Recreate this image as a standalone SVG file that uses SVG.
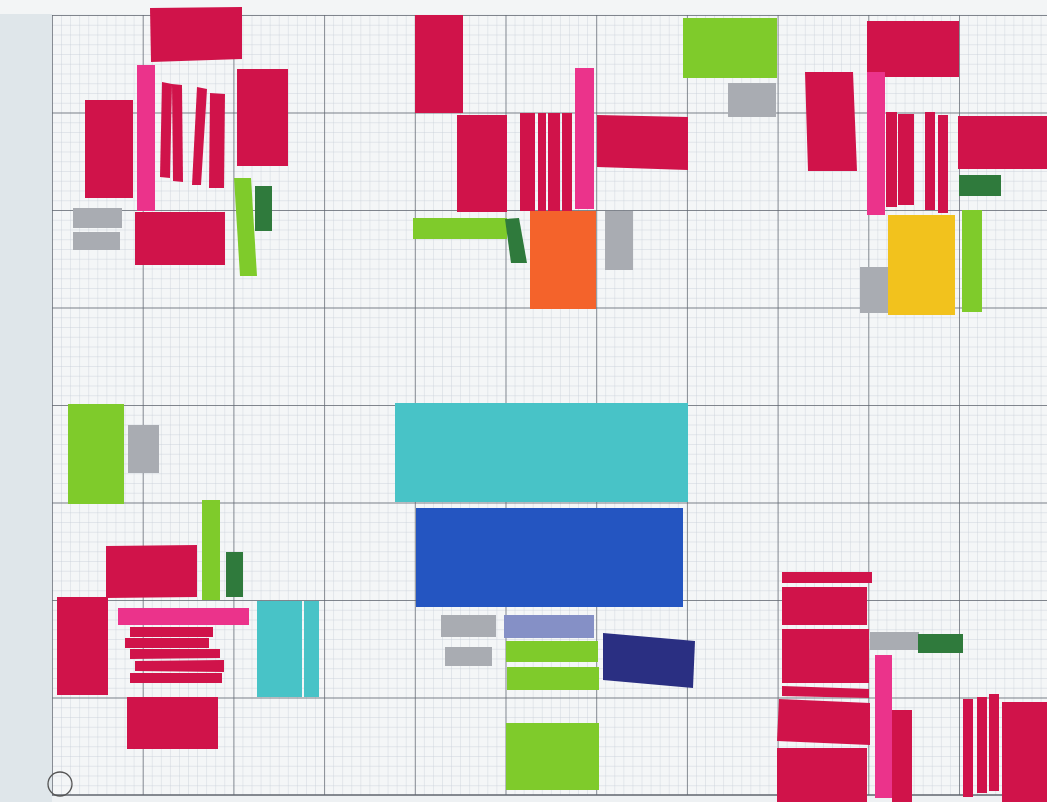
<svg xmlns="http://www.w3.org/2000/svg" width="1047" height="802" viewBox="0 0 1047 802">
<defs>
<pattern id="minor" patternUnits="userSpaceOnUse" x="52" y="15" width="9.07" height="9.75">
<path d="M0 0H9.07M0 0V9.75" fill="none" stroke="#c6cdd6" stroke-width="0.8"/>
</pattern>
<pattern id="major" patternUnits="userSpaceOnUse" x="52" y="15" width="90.7" height="97.5">
<path d="M0 0H90.7M0 0V97.5" fill="none" stroke="#5f656e" stroke-width="1.4"/>
</pattern>
</defs>
<style>
.cr{fill:#d0134a}
.pk{fill:#eb338b}
.lg{fill:#7fcb2b}
.dg{fill:#2f7a3c}
.gr{fill:#a9acb2}
.or{fill:#f4632b}
.ye{fill:#f2c21d}
.cy{fill:#48c3c7}
.bl{fill:#2455c1}
.nv{fill:#2a2f82}
.lv{fill:#8590c6}
</style>
<rect width="1047" height="802" fill="#eef1f3"/>
<rect x="0" y="0" width="52" height="802" fill="#dfe6ea"/>
<rect x="0" y="0" width="1047" height="14" fill="#f3f5f6"/>
<rect x="52" y="15" width="995" height="780" fill="#f4f6f7"/>
<rect x="52" y="15" width="995" height="780" fill="url(#minor)"/>
<rect x="52" y="15" width="995" height="780" fill="url(#major)"/>
<path d="M52 795H1047" stroke="#5f656e" stroke-width="1.4"/>
<circle cx="60" cy="784" r="12" fill="none" stroke="#555" stroke-width="1.3"/>

<g id="cluster-top-left">
<polygon class="cr" points="150,8 242,7 242,59 151,62"/>
<rect class="pk" x="137" y="65" width="18" height="146"/>
<rect class="cr" x="85" y="100" width="48" height="98"/>
<polygon class="cr" points="162,82 172,84 170,178 160,177"/>
<polygon class="cr" points="172,84 182,85 183,182 173,181"/>
<polygon class="cr" points="197,87 207,89 201,185 192,185"/>
<polygon class="cr" points="210,93 225,94 224,188 209,188"/>
<rect class="cr" x="237" y="69" width="51" height="97"/>
<rect class="gr" x="73" y="208" width="49" height="20"/>
<rect class="gr" x="73" y="232" width="47" height="18"/>
<rect class="cr" x="135" y="212" width="90" height="53"/>
<polygon class="lg" points="234,178 251,178 257,276 240,276"/>
<rect class="dg" x="255" y="186" width="17" height="45"/>
</g>

<g id="cluster-top-middle">
<rect class="cr" x="415" y="15" width="48" height="98"/>
<rect class="cr" x="457" y="115" width="50" height="97"/>
<rect class="cr" x="520" y="113" width="15" height="98"/>
<rect class="cr" x="538" y="113" width="8" height="98"/>
<rect class="cr" x="548" y="113" width="12" height="98"/>
<rect class="cr" x="562" y="113" width="10" height="98"/>
<rect class="pk" x="575" y="68" width="19" height="141"/>
<polygon class="cr" points="597,115 688,117 688,170 597,167"/>
<rect class="lg" x="413" y="218" width="94" height="21"/>
<polygon class="dg" points="505,219 519,218 527,263 511,263"/>
<rect class="or" x="530" y="211" width="66" height="98"/>
<rect class="gr" x="605" y="211" width="28" height="59"/>
<rect class="lg" x="683" y="18" width="94" height="60"/>
<rect class="gr" x="728" y="83" width="48" height="34"/>
</g>

<g id="cluster-top-right">
<rect class="cr" x="867" y="21" width="92" height="56"/>
<rect class="pk" x="867" y="72" width="18" height="143"/>
<polygon class="cr" points="805,72 853,72 857,171 808,171"/>
<rect class="cr" x="886" y="112" width="11" height="95"/>
<rect class="cr" x="898" y="114" width="16" height="91"/>
<rect class="cr" x="925" y="112" width="10" height="98"/>
<rect class="cr" x="938" y="115" width="10" height="98"/>
<rect class="cr" x="958" y="116" width="89" height="53"/>
<rect class="dg" x="959" y="175" width="42" height="21"/>
<rect class="ye" x="888" y="215" width="67" height="100"/>
<rect class="gr" x="860" y="267" width="28" height="46"/>
<rect class="lg" x="962" y="210" width="20" height="102"/>
</g>

<g id="cluster-bottom-left">
<rect class="lg" x="68" y="404" width="56" height="100"/>
<rect class="gr" x="128" y="425" width="31" height="48"/>
<rect class="lg" x="202" y="500" width="18" height="100"/>
<rect class="dg" x="226" y="552" width="17" height="45"/>
<polygon class="cr" points="106,546 197,545 197,597 106,598"/>
<rect class="cr" x="57" y="597" width="51" height="98"/>
<rect class="pk" x="118" y="608" width="131" height="17"/>
<rect class="cr" x="130" y="627" width="83" height="10"/>
<rect class="cr" x="125" y="638" width="84" height="10"/>
<polygon class="cr" points="130,649 220,649 220,658 130,659"/>
<polygon class="cr" points="135,661 224,660 224,672 135,671"/>
<rect class="cr" x="130" y="673" width="92" height="10"/>
<rect class="cy" x="257" y="601" width="45" height="96"/>
<rect class="cy" x="304" y="601" width="15" height="96"/>
<rect class="cr" x="127" y="697" width="91" height="52"/>
</g>

<g id="cluster-bottom-middle">
<rect class="cy" x="395" y="403" width="293" height="99"/>
<rect class="bl" x="416" y="508" width="267" height="99"/>
<rect class="gr" x="441" y="615" width="55" height="22"/>
<rect class="lv" x="504" y="615" width="90" height="23"/>
<rect class="gr" x="445" y="647" width="47" height="19"/>
<rect class="lg" x="506" y="641" width="92" height="21"/>
<rect class="lg" x="507" y="667" width="92" height="23"/>
<polygon class="nv" points="603,633 695,641 693,688 603,680"/>
<rect class="lg" x="506" y="723" width="93" height="67"/>
</g>

<g id="cluster-bottom-right">
<rect class="cr" x="782" y="572" width="90" height="11"/>
<rect class="cr" x="782" y="587" width="85" height="38"/>
<rect class="cr" x="782" y="629" width="87" height="54"/>
<polygon class="cr" points="782,686 869,689 869,698 782,696"/>
<polygon class="cr" points="779,699 870,703 870,745 777,741"/>
<rect class="cr" x="777" y="748" width="90" height="54"/>
<rect class="gr" x="870" y="632" width="49" height="18"/>
<rect class="dg" x="918" y="634" width="45" height="19"/>
<rect class="pk" x="875" y="655" width="17" height="143"/>
<rect class="cr" x="892" y="710" width="20" height="92"/>
<rect class="cr" x="963" y="699" width="10" height="98"/>
<rect class="cr" x="977" y="697" width="10" height="96"/>
<rect class="cr" x="989" y="694" width="10" height="97"/>
<rect class="cr" x="1002" y="702" width="45" height="100"/>
</g>
</svg>
